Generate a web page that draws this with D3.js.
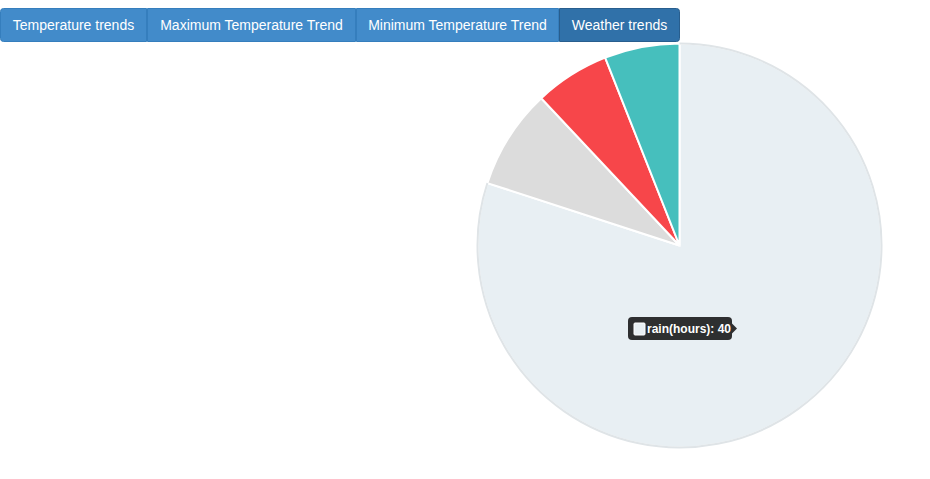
<!DOCTYPE html>
<html><head><meta charset="utf-8">
<script src="https://cdn.jsdelivr.net/npm/d3@7"></script>
<style>
body{margin:0;background:#fff;font-family:"Liberation Sans",Arial,sans-serif;}
</style></head>
<body><svg id="c" width="930" height="479"></svg>
<script>
const buttons = ["Temperature trends","Maximum Temperature Trend","Minimum Temperature Trend","Weather trends"];
const activeButton = 3;
const labels = ["rain(hours)","cloudy(hours)","snow(hours)","sunny(hours)"];
const values = [40, 4, 3, 3];
const colors = ["#e8eff3","#dcdcdc","#f7464a","#46bfbd"];
const hovered = 0;

const svg = d3.select("#c");

// Button group
const bx = [0,147,356,559,680];
function btnPath(x0,x1,y0,y1,rl,rr){
  return `M${x0+rl},${y0}H${x1-rr}`+(rr?`A${rr},${rr} 0 0 1 ${x1},${y0+rr}`:"")+
    `V${y1-rr}`+(rr?`A${rr},${rr} 0 0 1 ${x1-rr},${y1}`:"")+
    `H${x0+rl}`+(rl?`A${rl},${rl} 0 0 1 ${x0},${y1-rl}`:"")+
    `V${y0+rl}`+(rl?`A${rl},${rl} 0 0 1 ${x0+rl},${y0}`:"")+"Z";
}
const bg = svg.append("g");
buttons.forEach((b,i)=>{
  const g = bg.append("g");
  const w = bx[i+1]-bx[i];
  g.append("path").attr("d",btnPath(bx[i]+0.5,bx[i+1]-0.5,8.5,41.5,i===0?3:0,i===3?3:0))
    .attr("fill", i===activeButton?"#3071a9":"#428bca")
    .attr("stroke", i===activeButton?"#285e8e":"#357ebd");
  g.append("text").attr("x",bx[i]+w/2).attr("y",30).attr("text-anchor","middle")
    .attr("fill","#fff").attr("font-size","14px").text(b);
});

// Pie
const cx = 679.5, cy = 245.5, r = 202;
const pie = d3.pie().sort(null).value(d=>d)(values);
const arc = d3.arc().innerRadius(0).outerRadius(r);
const pg = svg.append("g").attr("transform",`translate(${cx},${cy})`);
pg.selectAll("path.s").data(pie).join("path").attr("class","s")
  .attr("d",arc).attr("fill",(d,i)=>colors[i])
  .attr("stroke","#fff").attr("stroke-width",2);
// hovered slice border
const outer = d3.arc().innerRadius(r).outerRadius(r);
pg.append("path").attr("d", outer(pie[hovered])).attr("fill","none")
  .attr("stroke","#dfe4e7").attr("stroke-width",2);

// Tooltip
const tx = 628, ty = 317, tw = 104, th = 23;
const tg = svg.append("g");
tg.append("rect").attr("x",tx).attr("y",ty).attr("width",tw).attr("height",th).attr("rx",4)
  .attr("fill","#2e2f30");
tg.append("path").attr("d",`M${tx+tw},${ty+th/2-5}L${tx+tw+5},${ty+th/2}L${tx+tw},${ty+th/2+5}Z`).attr("fill","#2e2f30");
tg.append("rect").attr("x",tx+6).attr("y",ty+6).attr("width",11).attr("height",12).attr("rx",1)
  .attr("fill",colors[hovered]).attr("stroke","#fff").attr("stroke-width",1);
tg.append("text").attr("x",tx+19).attr("y",ty+16).attr("fill","#fff")
  .attr("font-size","12px").attr("font-weight","bold")
  .text(labels[hovered]+": "+values[hovered]);
</script></body></html>
